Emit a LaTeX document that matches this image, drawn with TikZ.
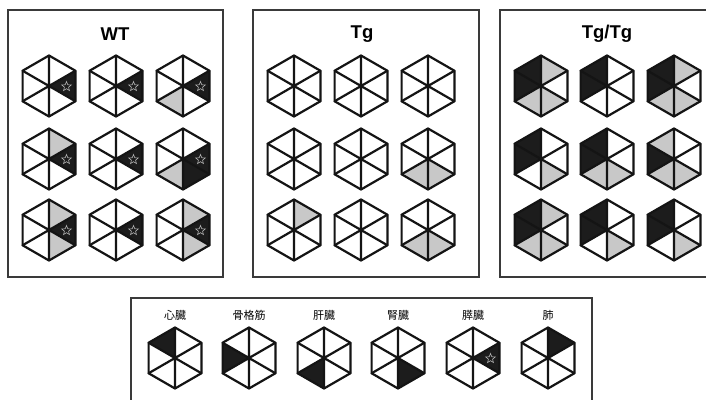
\documentclass[tikz,border=0pt]{standalone}
\usepackage{fontspec}
\setmainfont{Liberation Sans}
\newfontfamily\cjk{Noto Sans CJK JP}
\usetikzlibrary{shapes.geometric}
\definecolor{hw}{HTML}{FFFFFF}
\definecolor{hk}{HTML}{1C1C1C}
\definecolor{hg}{HTML}{C8C8C8}
\definecolor{boxc}{HTML}{3A3A3A}
\def\hr{30.5}
\def\hw{26.4}
\def\hh{15.25}
\tikzset{
  hexline/.style={draw=black!92,line width=2.2pt,line join=round,line cap=round},
  panel/.style={draw=boxc,line width=1.5pt},
  titletext/.style={font=\bfseries\fontsize{18.5}{20}\selectfont,inner sep=0pt},
  organ/.style={font=\cjk\fontsize{11}{13}\selectfont,inner sep=0pt},
  starmark/.style={star,star points=5,star point ratio=2.3,minimum size=10pt,inner sep=0pt,draw=black!30,line width=0.6pt}
}
% #1 x, #2 y, #3..#8 fills: UR R LR LL L UL
\newcommand\hexcell[8]{%
\begin{scope}[shift={(#1,#2)}]
\fill[#3] (0,0) -- (0,-\hr) -- (\hw,-\hh) -- cycle;
\fill[#4] (0,0) -- (\hw,-\hh) -- (\hw,\hh) -- cycle;
\fill[#5] (0,0) -- (\hw,\hh) -- (0,\hr) -- cycle;
\fill[#6] (0,0) -- (0,\hr) -- (-\hw,\hh) -- cycle;
\fill[#7] (0,0) -- (-\hw,\hh) -- (-\hw,-\hh) -- cycle;
\fill[#8] (0,0) -- (-\hw,-\hh) -- (0,-\hr) -- cycle;
\draw[hexline] (0,-\hr) -- (\hw,-\hh) -- (\hw,\hh) -- (0,\hr) -- (-\hw,\hh) -- (-\hw,-\hh) -- cycle;
\draw[hexline] (0,-\hr) -- (0,\hr) (\hw,-\hh) -- (-\hw,\hh) (\hw,\hh) -- (-\hw,-\hh);
\end{scope}}
\newcommand\hexstar[2]{\node[starmark] at ({#1+17.5},{#2+0.5}) {};}
\begin{document}
\begin{tikzpicture}[x=1pt,y=-1pt]
\clip (0,0) rectangle (706,399);
\fill[white] (0,0) rectangle (706,399);
% panels
\draw[panel] (8,10) rectangle (223,277);
\draw[panel] (253,10) rectangle (479,277);
\draw[panel] (500,10) rectangle (716,277);
\draw[panel] (131,298) rectangle (592,412);
\node[titletext] (twt) at (115,34) {WT};
\node[titletext] (ttg) at (362,34) {Tg};
\node[titletext] (ttgtg) at (607,34) {Tg/Tg};
% WT
\hexcell{49}{86}{hw}{hk}{hw}{hw}{hw}{hw}\hexstar{49}{86}
\hexcell{116}{86}{hw}{hk}{hw}{hw}{hw}{hw}\hexstar{116}{86}
\hexcell{183}{86}{hw}{hk}{hw}{hg}{hw}{hw}\hexstar{183}{86}
\hexcell{49}{159}{hg}{hk}{hw}{hw}{hw}{hw}\hexstar{49}{159}
\hexcell{116}{159}{hw}{hk}{hw}{hw}{hw}{hw}\hexstar{116}{159}
\hexcell{183}{159}{hw}{hk}{hk}{hg}{hw}{hw}\hexstar{183}{159}
\hexcell{49}{230}{hg}{hk}{hg}{hw}{hw}{hw}\hexstar{49}{230}
\hexcell{116}{230}{hw}{hk}{hw}{hw}{hw}{hw}\hexstar{116}{230}
\hexcell{183}{230}{hg}{hk}{hg}{hw}{hw}{hw}\hexstar{183}{230}
% Tg
\hexcell{294}{86}{hw}{hw}{hw}{hw}{hw}{hw}
\hexcell{361}{86}{hw}{hw}{hw}{hw}{hw}{hw}
\hexcell{428}{86}{hw}{hw}{hw}{hw}{hw}{hw}
\hexcell{294}{159}{hw}{hw}{hw}{hw}{hw}{hw}
\hexcell{361}{159}{hw}{hw}{hw}{hw}{hw}{hw}
\hexcell{428}{159}{hw}{hw}{hg}{hg}{hw}{hw}
\hexcell{294}{230}{hg}{hw}{hw}{hw}{hw}{hw}
\hexcell{361}{230}{hw}{hw}{hw}{hw}{hw}{hw}
\hexcell{428}{230}{hw}{hw}{hg}{hg}{hw}{hw}
% Tg/Tg
\hexcell{541}{86}{hg}{hw}{hg}{hg}{hk}{hk}
\hexcell{607}{86}{hw}{hw}{hw}{hw}{hk}{hk}
\hexcell{674}{86}{hg}{hw}{hg}{hg}{hk}{hk}
\hexcell{541}{159}{hw}{hw}{hg}{hw}{hk}{hk}
\hexcell{607}{159}{hw}{hw}{hg}{hg}{hk}{hk}
\hexcell{674}{159}{hw}{hw}{hg}{hg}{hk}{hg}
\hexcell{541}{230}{hg}{hw}{hg}{hg}{hk}{hk}
\hexcell{607}{230}{hw}{hw}{hg}{hw}{hk}{hk}
\hexcell{674}{230}{hw}{hw}{hg}{hw}{hk}{hk}
% legend
\node[organ] (l1) at (175,315) {心臓};
\node[organ] (l2) at (249,315) {骨格筋};
\node[organ] (l3) at (324,315) {肝臓};
\node[organ] (l4) at (398,315) {腎臓};
\node[organ] (l5) at (473,315) {膵臓};
\node[organ] (l6) at (548,315) {肺};
\hexcell{175}{358}{hw}{hw}{hw}{hw}{hw}{hk}
\hexcell{249}{358}{hw}{hw}{hw}{hw}{hk}{hw}
\hexcell{324}{358}{hw}{hw}{hw}{hk}{hw}{hw}
\hexcell{398}{358}{hw}{hw}{hk}{hw}{hw}{hw}
\hexcell{473}{358}{hw}{hk}{hw}{hw}{hw}{hw}\hexstar{473}{358}
\hexcell{548}{358}{hk}{hw}{hw}{hw}{hw}{hw}
\end{tikzpicture}
\end{document}
